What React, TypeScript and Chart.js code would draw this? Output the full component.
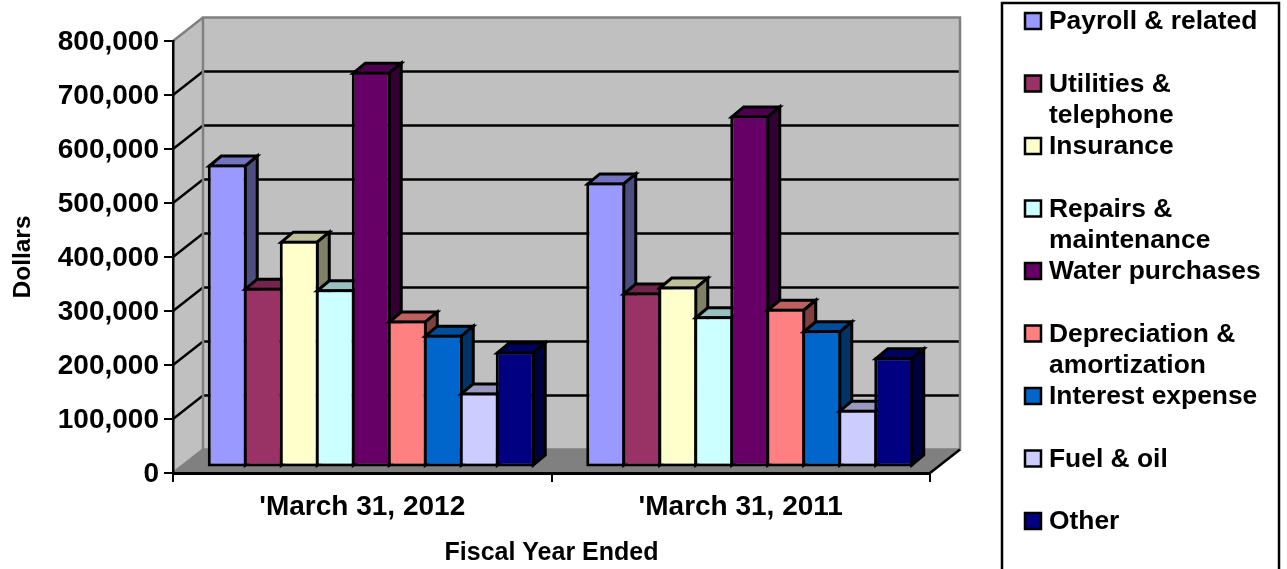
import React, { useEffect, useRef } from "react";
import { Chart, registerables } from "chart.js";

Chart.register(...registerables);

const categories = ["'March 31, 2012", "'March 31, 2011"];
const seriesLabels = [
  "Payroll & related",
  "Utilities & telephone",
  "Insurance",
  "Repairs & maintenance",
  "Water purchases",
  "Depreciation & amortization",
  "Interest expense",
  "Fuel & oil",
  "Other",
];
const seriesColors = ["#9999FF", "#993366", "#FFFFCC", "#CCFFFF", "#660066", "#FF8080", "#0066CC", "#CCCCFF", "#000080"];
const payroll = [561000, 528000];
const utilities = [333000, 324000];
const insurance = [420000, 335000];
const repairs = [330000, 280000];
const water = [733000, 652000];
const depreciation = [272000, 294000];
const interest = [246000, 254000];
const fuel = [139000, 107000];
const other = [215000, 204000];
const seriesValues = [payroll, utilities, insurance, repairs, water, depreciation, interest, fuel, other];

const FONT = '"Liberation Sans", Arial, sans-serif';
const WALL = "#C0C0C0";
const EDGE = "#808080";
const OUTLINE = 3;

// Oblique projection of the box: full depth of the plot, and the depth of one column.
const DEPTH_X = 30;
const DEPTH_Y = 23.5;
const COLUMN_X = 12;
const COLUMN_Y = 10;
const COLUMN_SHIFT_X = 9;
const COLUMN_SHIFT_Y = -5.5;

function shade(hex: string, factor: number) {
  const n = parseInt(hex.slice(1), 16);
  const c = [(n >> 16) & 255, (n >> 8) & 255, n & 255].map((v) => Math.round(v * factor));
  return `rgb(${c[0]},${c[1]},${c[2]})`;
}

function poly(ctx: CanvasRenderingContext2D, pts: number[][], fill: string | null, stroke: string | null, lw = 2) {
  ctx.beginPath();
  pts.forEach((p, i) => (i ? ctx.lineTo(p[0], p[1]) : ctx.moveTo(p[0], p[1])));
  ctx.closePath();
  if (fill) {
    ctx.fillStyle = fill;
    ctx.fill();
  }
  if (stroke) {
    ctx.strokeStyle = stroke;
    ctx.lineWidth = lw;
    ctx.lineJoin = "miter";
    ctx.stroke();
  }
}

function segment(ctx: CanvasRenderingContext2D, x1: number, y1: number, x2: number, y2: number, color: string, lw = 2) {
  ctx.beginPath();
  ctx.moveTo(x1, y1);
  ctx.lineTo(x2, y2);
  ctx.strokeStyle = color;
  ctx.lineWidth = lw;
  ctx.stroke();
}

const boxPlugin = {
  id: "box3d",
  // Walls and floor behind the columns.
  beforeDraw(chart: any) {
    const { ctx, chartArea: a, scales } = chart;
    const y = scales.y;
    const y0 = y.getPixelForValue(0);
    const yMax = y.getPixelForValue(y.max);
    ctx.save();
    ctx.lineCap = "butt";
    const bx = a.left + DEPTH_X;
    const bRight = a.right + DEPTH_X;
    const by0 = y0 - DEPTH_Y;
    const byMax = yMax - DEPTH_Y;
    poly(ctx, [[bx, byMax], [bRight, byMax], [bRight, by0], [bx, by0]], WALL, null);
    poly(ctx, [[a.left, yMax], [bx, byMax], [bx, by0], [a.left, y0]], WALL, null);
    poly(ctx, [[a.left, y0], [a.right, y0], [bRight, by0], [bx, by0]], EDGE, null);
    y.ticks.forEach((t: any) => {
      if (t.value === 0 || t.value === y.max) return;
      const py = y.getPixelForValue(t.value);
      segment(ctx, a.left, py, bx, py - DEPTH_Y, "#000", 2.4);
      segment(ctx, bx, py - DEPTH_Y, bRight, py - DEPTH_Y, "#000", 2.4);
    });
    poly(ctx, [[bx, byMax], [bRight, byMax], [bRight, by0], [bx, by0]], null, EDGE, 2.5);
    segment(ctx, a.left, yMax, bx, byMax, EDGE, 2.5);
    segment(ctx, a.left, y0, bx, by0, EDGE, 2.5);
    segment(ctx, a.right, y0, bRight, by0, "#000", 2.5);
    ctx.restore();
  },
  // Columns are painted left to right so each front face overlaps its left neighbour's side.
  beforeDatasetsDraw(chart: any) {
    const { ctx } = chart;
    const half = OUTLINE / 2;
    ctx.save();
    ctx.translate(COLUMN_SHIFT_X, COLUMN_SHIFT_Y);
    chart.data.datasets.forEach((_: any, index: number) => {
      const meta = chart.getDatasetMeta(index);
      const color = seriesColors[index];
      meta.data.forEach((bar: any) => {
        const l = bar.x - bar.width / 2 + half;
        const r = bar.x + bar.width / 2 - half;
        const t = bar.y + half;
        const b = bar.base - half;
        poly(ctx, [[l, t], [r, t], [r + COLUMN_X, t - COLUMN_Y], [l + COLUMN_X, t - COLUMN_Y]], shade(color, 0.75), "#000", OUTLINE);
        poly(ctx, [[r, t], [r + COLUMN_X, t - COLUMN_Y], [r + COLUMN_X, b - COLUMN_Y], [r, b]], shade(color, 0.5), "#000", OUTLINE);
      });
      meta.controller.draw();
    });
    ctx.restore();
    return false;
  },
  // Framed legend on the right; its bottom edge runs past the page.
  afterDraw(chart: any) {
    const { ctx } = chart;
    ctx.save();
    ctx.strokeStyle = "#000";
    ctx.lineWidth = 2.5;
    ctx.strokeRect(1002, 3, 277, 580);
    ctx.font = `bold 26.4px ${FONT}`;
    ctx.textBaseline = "middle";
    ctx.textAlign = "left";
    chart.data.datasets.forEach((ds: any, i: number) => {
      const rowY = 21 + 62.5 * i;
      ctx.fillStyle = ds.backgroundColor;
      ctx.fillRect(1025, rowY - 8, 16, 16);
      ctx.strokeRect(1025, rowY - 8, 16, 16);
      ctx.fillStyle = "#000";
      const lines: string[] = [];
      let cur = "";
      String(ds.label).split(" ").forEach((word) => {
        const next = cur ? `${cur} ${word}` : word;
        if (ctx.measureText(next).width > 216 && cur) {
          lines.push(cur);
          cur = word;
        } else cur = next;
      });
      lines.push(cur);
      lines.forEach((line, k) => ctx.fillText(line, 1049, rowY + 1 + 31 * k));
    });
    ctx.restore();
  },
};

export default function App() {
  const ref = useRef<HTMLCanvasElement>(null);
  useEffect(() => {
    document.body.style.margin = "0";
    const chart = new Chart(ref.current as HTMLCanvasElement, {
      type: "bar",
      data: {
        labels: categories,
        datasets: seriesLabels.map((label, i) => ({
          label,
          data: seriesValues[i],
          backgroundColor: seriesColors[i],
          borderColor: "#000",
          borderWidth: OUTLINE,
          borderSkipped: false,
          categoryPercentage: 324 / 378.5,
          barPercentage: (36 + OUTLINE) / 36,
        })),
      },
      options: {
        animation: false,
        responsive: false,
        layout: { padding: { top: 41, right: 357, left: 0, bottom: 0 } },
        plugins: { legend: { display: false }, tooltip: { enabled: false } },
        scales: {
          x: {
            afterFit: (s: any) => {
              s.height = 96;
            },
            grid: { drawOnChartArea: false, drawTicks: true, tickLength: 9, color: "#000", lineWidth: 2 },
            border: { color: "#000", width: 3 },
            ticks: { color: "#000", padding: 8, font: { family: FONT, size: 28, weight: "bold" } },
            title: {
              display: true,
              text: "Fiscal Year Ended",
              color: "#000",
              padding: { top: 0, bottom: 1 },
              font: { family: FONT, size: 25, weight: "bold" },
            },
          },
          y: {
            min: 0,
            max: 800000,
            afterFit: (s: any) => {
              s.width = 173;
            },
            grid: { drawOnChartArea: false, drawTicks: true, tickLength: 9, color: "#000", lineWidth: 2 },
            border: { color: "#000", width: 2.5 },
            ticks: {
              stepSize: 100000,
              color: "#000",
              padding: 5,
              labelOffset: 1,
              font: { family: FONT, size: 28, weight: "bold" },
              callback: (v: any) => Number(v).toLocaleString("en-US"),
            },
            title: {
              display: true,
              text: "Dollars",
              color: "#000",
              padding: { top: 9, bottom: 0 },
              font: { family: FONT, size: 24.5, weight: "bold" },
            },
          },
        },
      },
      plugins: [boxPlugin],
    } as any);
    return () => chart.destroy();
  }, []);
  return <canvas ref={ref} width={1287} height={569} style={{ display: "block", position: "fixed", left: 0, top: 0 }} />;
}
